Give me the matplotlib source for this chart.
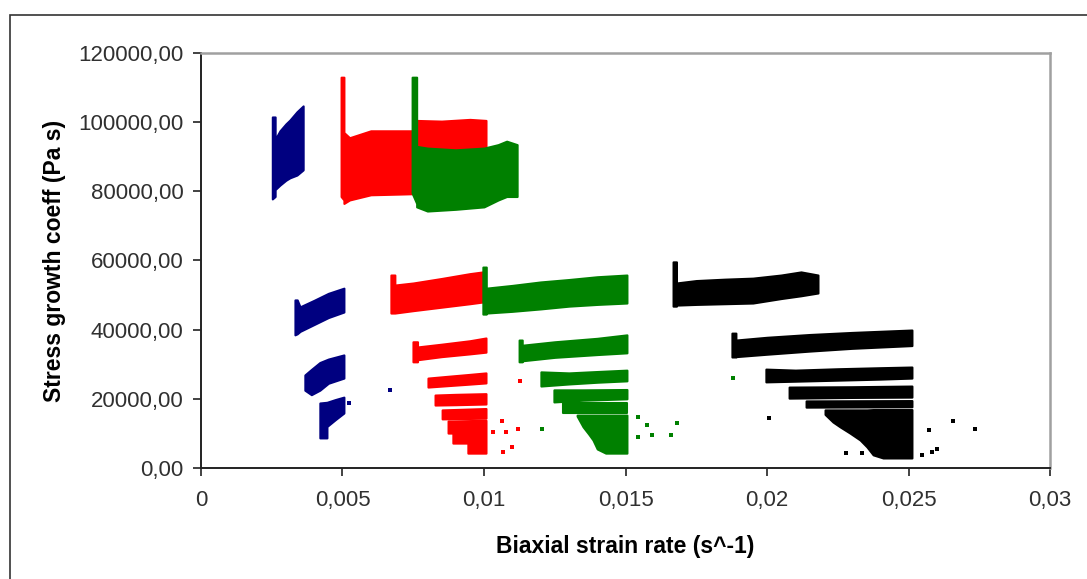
import matplotlib
matplotlib.use('Agg')
import matplotlib.pyplot as plt
from matplotlib.patches import Rectangle

plt.rcParams['font.family'] = ['Liberation Sans', 'DejaVu Sans']

# Each band: (strain rate, lower coeff, upper coeff) envelopes of the measured points
navy_bands = [
    ([0.00252, 0.00262, 0.00262, 0.00279, 0.00300, 0.00314, 0.00339, 0.00361],
     [77800, 78500, 80500, 81800, 83200, 83900, 84700, 86200],
     [101500, 101500, 95000, 97500, 99500, 100600, 103000, 104700]),
    ([0.00332, 0.00340, 0.00350, 0.00400, 0.00450, 0.00505],
     [38500, 38800, 39500, 41500, 43500, 45100],
     [48600, 48600, 46600, 48500, 50500, 52000]),
    ([0.00367, 0.00390, 0.00420, 0.00450, 0.00505],
     [22500, 21200, 22500, 24500, 26000],
     [26900, 28500, 30500, 31500, 32700]),
    ([0.00420, 0.00445, 0.00445, 0.00475, 0.00505],
     [8700, 8700, 12000, 14000, 15900],
     [18800, 19000, 19000, 19800, 20500]),
]
navy_dots_x = [0.00431, 0.00523, 0.00668]
navy_dots_y = [24000, 18800, 22600]

red_bands = [
    ([0.00495, 0.00505, 0.00505, 0.00525, 0.00600, 0.00700, 0.00746, 0.00760, 0.00850, 0.00950, 0.01007],
     [78500, 77500, 76500, 77500, 79000, 79200, 79300, 80000, 80000, 80000, 80000],
     [113000, 113000, 97000, 95500, 97500, 97500, 97500, 100500, 100300, 100800, 100500]),
    ([0.00671, 0.00685, 0.00685, 0.00750, 0.00850, 0.00950, 0.00996],
     [44800, 44800, 44800, 45500, 46500, 47500, 48000],
     [55800, 55800, 52900, 53500, 54800, 56200, 56700]),
    ([0.00749, 0.00765, 0.00765, 0.00850, 0.00950, 0.01007],
     [30700, 30700, 31300, 32200, 33000, 33500],
     [36500, 36500, 35000, 35800, 36800, 37600]),
    ([0.00802, 0.00870, 0.00940, 0.01007],
     [23400, 23800, 24200, 24600],
     [26000, 26500, 27000, 27500]),
    ([0.00827, 0.00900, 0.01007],
     [18200, 18300, 18500],
     [21100, 21300, 21500]),
    ([0.00852, 0.00930, 0.01007],
     [14200, 14300, 14400],
     [16800, 17000, 17200]),
    ([0.00873, 0.00890, 0.00890, 0.00943, 0.00943, 0.01007],
     [10100, 10100, 7200, 7200, 4300, 4300],
     [13600, 13600, 13600, 13700, 13700, 13800]),
]
red_dots_x = [0.01127, 0.01064, 0.01032, 0.01078, 0.01120, 0.01067, 0.01099]
red_dots_y = [25200, 13600, 10400, 10400, 11300, 4600, 6100]

green_bands = [
    ([0.00746, 0.00762, 0.00762, 0.00800, 0.00900, 0.01000, 0.01050, 0.01080, 0.01117],
     [79500, 76500, 75500, 74300, 74800, 75500, 77500, 78500, 78500],
     [113000, 113000, 93000, 92500, 92000, 92500, 93500, 94500, 93500]),
    ([0.00996, 0.01008, 0.01008, 0.01100, 0.01200, 0.01300, 0.01400, 0.01505],
     [44500, 44500, 44800, 45300, 46000, 46800, 47300, 47700],
     [58100, 58100, 52000, 52800, 53800, 54500, 55300, 55800]),
    ([0.01124, 0.01135, 0.01135, 0.01250, 0.01400, 0.01505],
     [30700, 30700, 31000, 32000, 32800, 33300],
     [37000, 37000, 35500, 36500, 37500, 38500]),
    ([0.01201, 0.01300, 0.01400, 0.01505],
     [23700, 24300, 24800, 25200],
     [27800, 27500, 27900, 28300]),
    ([0.01247, 0.01350, 0.01505],
     [19100, 19600, 20000],
     [22600, 22600, 22700]),
    ([0.01279, 0.01400, 0.01505],
     [16000, 16000, 16000],
     [18800, 18800, 18800]),
    ([0.01329, 0.01350, 0.01370, 0.01385, 0.01400, 0.01430, 0.01505],
     [15000, 11900, 9800, 8100, 5500, 4300, 4300],
     [15300, 15300, 15300, 15300, 15300, 15300, 15300]),
]
green_dots_x = [0.01205, 0.01544, 0.01576, 0.01544, 0.01594, 0.01661, 0.01682, 0.01880]
green_dots_y = [11300, 14700, 12400, 9000, 9500, 9500, 13000, 26000]

black_bands = [
    ([0.01668, 0.01680, 0.01680, 0.01750, 0.01850, 0.01950, 0.02050, 0.02120, 0.02180],
     [46800, 46800, 47100, 47300, 47500, 47700, 49000, 49800, 50600],
     [59600, 59600, 53500, 54200, 54600, 54900, 55800, 56700, 55800]),
    ([0.01876, 0.01890, 0.01890, 0.02000, 0.02150, 0.02300, 0.02512],
     [32100, 32100, 32200, 32900, 33800, 34600, 35400],
     [39000, 39000, 37000, 37800, 38600, 39200, 39900]),
    ([0.01996, 0.02100, 0.02250, 0.02400, 0.02512],
     [24900, 25100, 25400, 25700, 26000],
     [28600, 28300, 28700, 29000, 29200]),
    ([0.02078, 0.02300, 0.02512],
     [20200, 20400, 20500],
     [23400, 23500, 23700]),
    ([0.02138, 0.02512],
     [17600, 17700],
     [19400, 19500]),
    ([0.02205, 0.02233, 0.02258, 0.02293, 0.02329, 0.02353, 0.02375, 0.02410, 0.02512],
     [15500, 13300, 11900, 10100, 8100, 6100, 3800, 2900, 2900],
     [16800, 16800, 16800, 16800, 16800, 16800, 16900, 16900, 16900]),
]
black_dots_x = [0.02007, 0.02279, 0.02336, 0.02548, 0.02572, 0.02583, 0.02601, 0.02657, 0.02735]
black_dots_y = [14500, 4300, 4300, 3800, 11000, 4600, 5500, 13600, 11300]

x_ticks = [0, 0.005, 0.01, 0.015, 0.02, 0.025, 0.03]
x_tick_labels = ['0', '0,005', '0,01', '0,015', '0,02', '0,025', '0,03']
y_ticks = [0, 20000, 40000, 60000, 80000, 100000, 120000]
y_tick_labels = ['0,00', '20000,00', '40000,00', '60000,00', '80000,00', '100000,00', '120000,00']

fig = plt.figure(figsize=(10.87, 5.79), dpi=100)
ax = fig.add_axes([0.1849, 0.1917, 0.7811, 0.7168])

series = [(navy_bands, navy_dots_x, navy_dots_y, '#000080'),
          (red_bands, red_dots_x, red_dots_y, '#ff0000'),
          (green_bands, green_dots_x, green_dots_y, '#008000'),
          (black_bands, black_dots_x, black_dots_y, '#000000')]
for bands, dx, dy, col in series:
    for bx, lo, hi in bands:
        # outline width stands in for the marker size of the dense points
        ax.fill_between(bx, lo, hi, color=col, linewidth=1.5, edgecolor=col)
    ax.plot(dx, dy, 's', color=col, markersize=2.6, markeredgewidth=0)

ax.set_xlim(0, 0.03)
ax.set_ylim(0, 120000)
ax.set_xticks(x_ticks)
ax.set_xticklabels(x_tick_labels)
ax.set_yticks(y_ticks)
ax.set_yticklabels(y_tick_labels)
ax.tick_params(axis='both', direction='out', length=5.5, width=1.2, color='#222222',
               labelsize=16, labelcolor='#303030')
ax.tick_params(axis='x', pad=10)
ax.tick_params(axis='y', pad=7)

for side in ['left', 'bottom']:
    ax.spines[side].set_color('#222222')
    ax.spines[side].set_linewidth(1.4)
for side in ['top', 'right']:
    ax.spines[side].set_color('#a0a0a0')
    ax.spines[side].set_linewidth(1.8)

ax.set_xlabel('Biaxial strain rate (s^-1)', fontsize=16.5, fontweight='bold', va='center')
ax.xaxis.set_label_coords(0.5, -0.19)
ax.set_ylabel('Stress growth coeff (Pa s)', fontsize=16.5, fontweight='bold', va='center')
ax.yaxis.set_label_coords(-0.172, 0.5)

# chart area frame, left and top edges only fall inside the image
fig.add_artist(Rectangle((10 / 1087, -0.1), 1.2, 1.1 - 15 / 579,
                         transform=fig.transFigure, fill=False,
                         edgecolor='#333333', linewidth=1.2))

fig.savefig('out.png', dpi=100)
